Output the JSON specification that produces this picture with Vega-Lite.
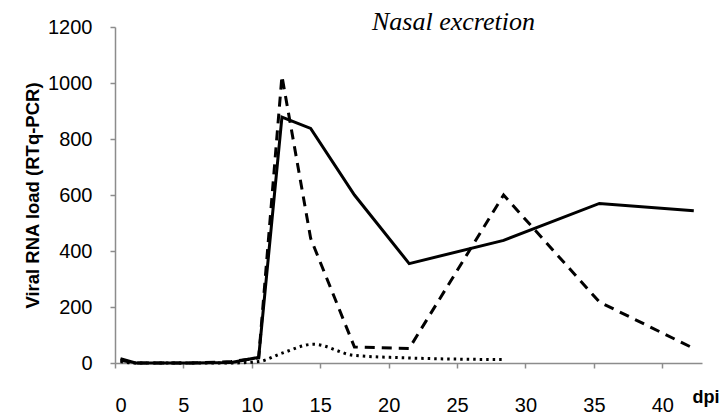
{
  "$schema": "https://vega.github.io/schema/vega-lite/v6.json",
  "width": 587,
  "height": 336,
  "autosize": "none",
  "padding": {"left": 115, "top": 27, "right": 25, "bottom": 54},
  "background": "white",
  "title": {
    "text": "Nasal excretion",
    "font": "Liberation Serif",
    "fontStyle": "italic",
    "fontWeight": "normal",
    "fontSize": 26,
    "color": "black",
    "anchor": "middle",
    "dx": 45,
    "offset": -18
  },
  "data": {
    "values": [
      {"dpi": 0.4, "load": 15, "s": "A"},
      {"dpi": 1.5, "load": 0, "s": "A"},
      {"dpi": 3.5, "load": 0, "s": "A"},
      {"dpi": 5.5, "load": 0, "s": "A"},
      {"dpi": 8.5, "load": 2, "s": "A"},
      {"dpi": 10.5, "load": 20, "s": "A"},
      {"dpi": 12.2, "load": 878, "s": "A"},
      {"dpi": 14.3, "load": 838, "s": "A"},
      {"dpi": 17.5, "load": 600, "s": "A"},
      {"dpi": 21.5, "load": 355, "s": "A"},
      {"dpi": 28.4, "load": 438, "s": "A"},
      {"dpi": 35.4, "load": 570, "s": "A"},
      {"dpi": 42.3, "load": 544, "s": "A"},
      {"dpi": 0.4, "load": 10, "s": "B"},
      {"dpi": 1.5, "load": 0, "s": "B"},
      {"dpi": 3.5, "load": 0, "s": "B"},
      {"dpi": 5.5, "load": 0, "s": "B"},
      {"dpi": 8.5, "load": 5, "s": "B"},
      {"dpi": 10.5, "load": 18, "s": "B"},
      {"dpi": 12.2, "load": 1025, "s": "B"},
      {"dpi": 14.3, "load": 445, "s": "B"},
      {"dpi": 17.5, "load": 57, "s": "B"},
      {"dpi": 21.5, "load": 52, "s": "B"},
      {"dpi": 28.4, "load": 600, "s": "B"},
      {"dpi": 35.4, "load": 218, "s": "B"},
      {"dpi": 42.3, "load": 52, "s": "B"},
      {"dpi": 0.4, "load": 5, "s": "C"},
      {"dpi": 1.5, "load": 0, "s": "C"},
      {"dpi": 3.5, "load": 0, "s": "C"},
      {"dpi": 5.5, "load": 0, "s": "C"},
      {"dpi": 8.5, "load": 0, "s": "C"},
      {"dpi": 10.5, "load": 5, "s": "C"},
      {"dpi": 12.2, "load": 35, "s": "C"},
      {"dpi": 14.5, "load": 67, "s": "C"},
      {"dpi": 17.5, "load": 27, "s": "C"},
      {"dpi": 21.5, "load": 18, "s": "C"},
      {"dpi": 28.4, "load": 12, "s": "C"}
    ]
  },
  "encoding": {
    "x": {
      "field": "dpi",
      "type": "quantitative",
      "scale": {"domain": [0, 42.9], "nice": false, "zero": false},
      "axis": {
        "values": [0, 5, 10, 15, 20, 25, 30, 35, 40],
        "format": "d",
        "title": "dpi",
        "titleFont": "Liberation Sans",
        "titleFontWeight": "bold",
        "titleFontSize": 18,
        "titleColor": "black",
        "titleAnchor": "end",
        "titleAlign": "left",
        "titleBaseline": "middle",
        "titleX": 577,
        "titleY": 34,
        "labelFont": "Liberation Sans",
        "labelFontSize": 20,
        "labelColor": "black",
        "labelPadding": 27,
        "labelDx": 6,
        "domainColor": "#8c8c8c",
        "domainWidth": 1.5,
        "tickColor": "#8c8c8c",
        "tickWidth": 1.5,
        "tickSize": 5,
        "grid": false
      }
    },
    "y": {
      "field": "load",
      "type": "quantitative",
      "scale": {"domain": [0, 1200], "nice": false},
      "axis": {
        "values": [0, 200, 400, 600, 800, 1000, 1200],
        "format": "d",
        "title": "Viral RNA load (RTq-PCR)",
        "titleFont": "Liberation Sans",
        "titleFontWeight": "bold",
        "titleFontSize": 18.5,
        "titleColor": "black",
        "titlePadding": 5,
        "labelFont": "Liberation Sans",
        "labelFontSize": 20,
        "labelColor": "black",
        "labelPadding": 18,
        "domainColor": "#8c8c8c",
        "domainWidth": 1.5,
        "tickColor": "#8c8c8c",
        "tickWidth": 1.5,
        "tickSize": 5,
        "grid": false
      }
    }
  },
  "layer": [
    {
      "transform": [{"filter": "datum.s === 'A'"}],
      "mark": {"type": "line", "color": "black", "strokeWidth": 3}
    },
    {
      "transform": [{"filter": "datum.s === 'B'"}],
      "mark": {"type": "line", "color": "black", "strokeWidth": 3, "strokeDash": [10, 7]}
    },
    {
      "transform": [{"filter": "datum.s === 'C'"}],
      "mark": {"type": "line", "color": "black", "strokeWidth": 3, "strokeDash": [2.5, 4], "interpolate": "monotone"}
    }
  ],
  "config": {"view": {"stroke": null}}
}
